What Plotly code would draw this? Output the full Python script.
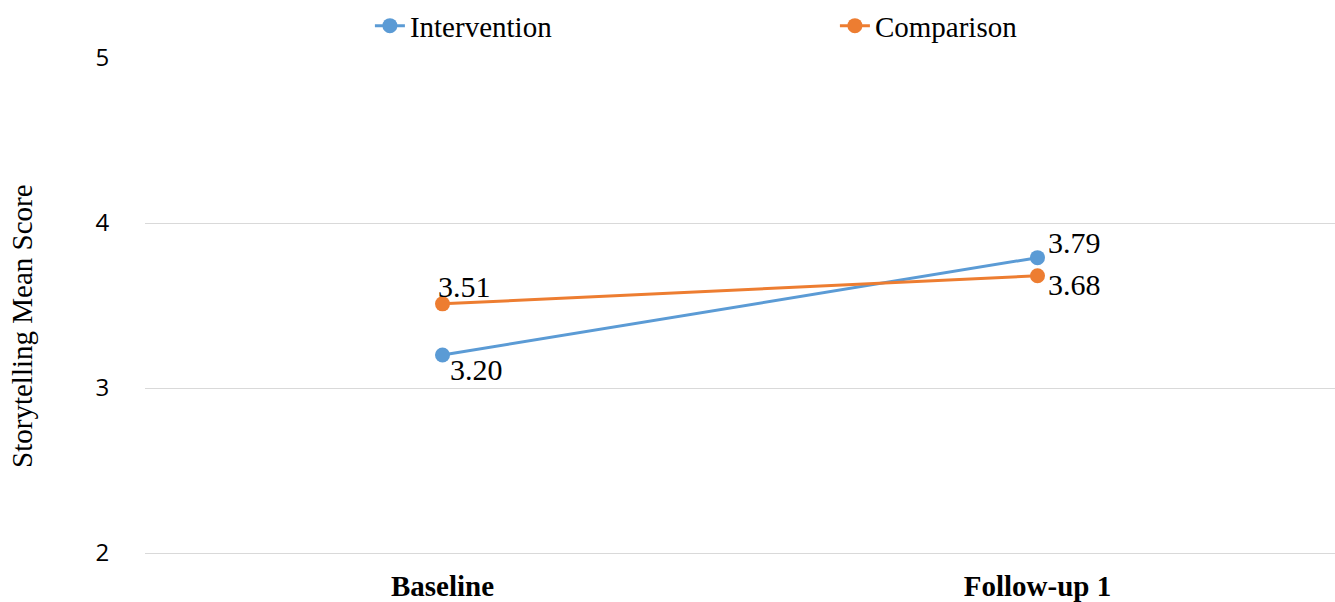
import plotly.graph_objects as go

# Time points and group means
time_points = ["Baseline", "Follow-up 1"]
intervention = [3.20, 3.79]
comparison = [3.51, 3.68]
y_ticks = [2, 3, 4, 5]

BLUE = "#5B9BD5"
ORANGE = "#ED7D31"
SERIF = "Liberation Serif, Times New Roman, serif"
SANS = "Open Sans, Liberation Sans, sans-serif"

fig = go.Figure()
fig.add_trace(go.Scatter(
    x=time_points, y=intervention, name="Intervention", mode="lines+markers",
    line=dict(color=BLUE, width=3), marker=dict(size=15, color=BLUE),
))
fig.add_trace(go.Scatter(
    x=time_points, y=comparison, name="Comparison", mode="lines+markers",
    line=dict(color=ORANGE, width=3), marker=dict(size=15, color=ORANGE),
))

# Value labels, offset from each marker
label_offsets = {
    "Intervention": [(34, -14), (37, 15)],
    "Comparison": [(22, 17), (37, -9)],
}
for series_name, values in (("Intervention", intervention), ("Comparison", comparison)):
    for cat, val, (dx, dy) in zip(time_points, values, label_offsets[series_name]):
        fig.add_annotation(
            x=cat, y=val, text=f"{val:.2f}", showarrow=False,
            xshift=dx, yshift=dy,
            font=dict(family=SERIF, size=30, color="#000000"),
        )

# Vertical axis title
fig.add_annotation(
    xref="paper", yref="paper", x=-0.1034, y=0.4586,
    text="Storytelling Mean Score", textangle=-90, showarrow=False,
    xanchor="center", yanchor="middle",
    font=dict(family=SERIF, size=29, color="#000000"),
)

fig.update_layout(
    width=1335, height=602,
    margin=dict(l=145, r=0, t=58, b=49, autoexpand=False),
    paper_bgcolor="white", plot_bgcolor="white",
    showlegend=True,
    legend=dict(
        orientation="h", x=0.189, xanchor="left", y=1.065, yanchor="middle",
        font=dict(family=SERIF, size=29, color="#000000"),
        entrywidth=420, bgcolor="rgba(0,0,0,0)",
    ),
    xaxis=dict(
        type="category", range=[-0.5, 1.5], automargin=False,
        showgrid=False, zeroline=False,
        showline=True, linecolor="#D9D9D9", linewidth=1,
        ticks="outside", ticklen=7, tickcolor="rgba(0,0,0,0)",
        tickfont=dict(family=SERIF, size=29, color="#000000", weight="bold"),
    ),
    yaxis=dict(
        range=[2, 5], tickvals=y_ticks, automargin=False,
        showgrid=True, gridcolor="#D9D9D9", gridwidth=1,
        zeroline=False, showline=False,
        ticks="outside", ticklen=30, tickcolor="rgba(0,0,0,0)",
        tickfont=dict(family=SANS, size=24, color="#000000"),
    ),
)

fig.write_html("out.html")
